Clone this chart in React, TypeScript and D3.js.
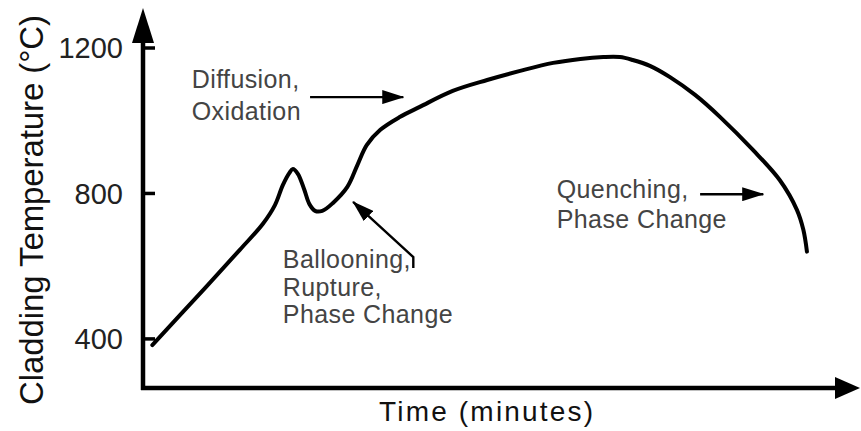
import React from "react";
import * as d3 from "d3";

// axis extents (data units): time is unitless minutes, temperature in °C
const timeDomain = [0, 100];
const tempDomain = [265, 1310];
const tempTicks = [400, 800, 1200];

// cladding temperature trace
const curveTime = [1.3, 8.0, 13.5, 16.7, 18.4, 19.5, 20.4, 20.9, 21.6, 22.5, 23.2, 24.0, 25.0, 26.5, 28.5, 29.9, 31.2, 33.1, 35.8, 38.6, 43.2, 48.0, 52.6, 57.2, 61.0, 64.2, 66.5, 68.3, 70.7, 73.5, 77.0, 80.5, 85.1, 88.8, 91.2, 92.1, 92.6];
const curveTemp = [383, 526, 645, 716, 768, 823, 856, 867, 854, 810, 771, 752, 752, 774, 818, 878, 933, 975, 1010, 1038, 1082, 1112, 1137, 1159, 1170, 1175, 1175, 1167, 1151, 1120, 1071, 1010, 919, 837, 755, 700, 640];

// annotation text and anchors (data units)
const noteLines = [["Diffusion,", "Oxidation"], ["Ballooning,", "Rupture,", "Phase Change"], ["Quenching,", "Phase Change"]];
const noteTime = [6.8, 19.5, 57.7];
const noteTemp = [1090, 595, 787];
const noteArrowTime = [[23.3, 36.3], [37.7, 37.7, 29.3], [77.7, 86.5]];
const noteArrowTemp = [[1065, 1065], [595, 625, 777], [798, 798]];

const W = 861;
const H = 431;
const noteLineHeight = [32, 27.5, 30];

export default function App() {
  const x = d3.scaleLinear().domain(timeDomain).range([143, 860]);
  const y = d3.scaleLinear().domain(tempDomain).range([388, 8]);

  const line = d3
    .line<number>()
    .x((_, i) => x(curveTime[i]))
    .y((_, i) => y(curveTemp[i]))
    .curve(d3.curveCatmullRom.alpha(0.5));

  const arrowLine = (k: number) =>
    d3
      .line<number>()
      .x((_, i) => x(noteArrowTime[k][i]))
      .y((_, i) => y(noteArrowTemp[k][i]))(noteArrowTime[k]);

  const x0 = x(timeDomain[0]);
  const y0 = y(tempDomain[0]);
  const xEnd = x(timeDomain[1]);
  const yEnd = y(tempDomain[1]);
  const font = "'Liberation Sans', Arial, sans-serif";

  return (
    <svg
      width={W}
      height={H}
      style={{ position: "absolute", left: 0, top: 0, background: "#fff" }}
      fontFamily={font}
    >
      <defs>
        <marker
          id="head"
          markerUnits="userSpaceOnUse"
          markerWidth={22}
          markerHeight={14}
          refX={21}
          refY={7}
          orient="auto"
        >
          <path d="M0,0 L22,7 L0,14 Z" fill="#000" />
        </marker>
      </defs>

      {/* axes */}
      <line x1={x0} x2={x0} y1={y0 + 2} y2={yEnd + 20} stroke="#000" strokeWidth={4.5} />
      <path d={`M${x0},${yEnd} L${x0 - 11},${yEnd + 35} L${x0 + 11},${yEnd + 35} Z`} fill="#000" />
      <line x1={x0 - 2} x2={xEnd - 20} y1={y0} y2={y0} stroke="#000" strokeWidth={4.5} />
      <path d={`M${xEnd},${y0} L${xEnd - 25},${y0 - 11} L${xEnd - 25},${y0 + 11} Z`} fill="#000" />

      {tempTicks.map((t) => (
        <g key={t}>
          <line x1={x0} x2={x0 + 12} y1={y(t)} y2={y(t)} stroke="#000" strokeWidth={3.5} />
          <text x={123} y={y(t)} dy="0.36em" textAnchor="end" fontSize={29} fill="#222">
            {t}
          </text>
        </g>
      ))}

      <text
        transform={`translate(43,${210}) rotate(-90)`}
        textAnchor="middle"
        fontSize={33}
        fill="#111"
        textLength={390}
        lengthAdjust="spacing"
      >
        Cladding Temperature (°C)
      </text>
      <text x={486} y={421} textAnchor="middle" fontSize={28} fill="#111" textLength={214} lengthAdjust="spacing">
        Time (minutes)
      </text>

      {/* temperature trace */}
      <path d={line(curveTime) ?? ""} fill="none" stroke="#000" strokeWidth={4} strokeLinecap="round" />

      {/* annotations */}
      {noteLines.map((lines, k) => (
        <g key={k}>
          {lines.map((s, j) => (
            <text
              key={j}
              x={x(noteTime[k])}
              y={y(noteTemp[k]) + j * noteLineHeight[k]}
              fontSize={25}
              letterSpacing={0.4}
              fill="#444"
            >
              {s}
            </text>
          ))}
          <path
            d={arrowLine(k) ?? ""}
            fill="none"
            stroke="#000"
            strokeWidth={2.4}
            markerEnd="url(#head)"
          />
        </g>
      ))}
    </svg>
  );
}
